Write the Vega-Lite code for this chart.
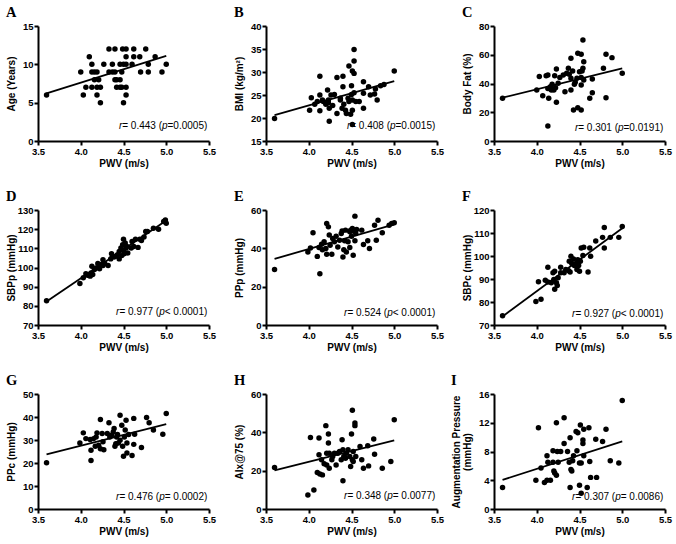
{
"$schema":"https://vega.github.io/schema/vega-lite/v6.json",
"padding":{"left":6,"top":4,"right":2,"bottom":2},
"background":"white",
"config":{
 "view":{"stroke":null},
 "axis":{"domainColor":"black","domainWidth":2,"tickColor":"black","tickWidth":2,"tickSize":4,"labelFont":"Liberation Sans","labelFontWeight":"bold","labelFontSize":9.5,"labelColor":"black","titleFont":"Liberation Sans","titleFontWeight":"bold","titleFontSize":10,"titleColor":"black","grid":false,"labelPadding":1},
 "axisX":{"titlePadding":3,"labelFlush":false},
 "axisY":{"minExtent":19,"maxExtent":19,"titlePadding":3},
 "title":{"font":"Liberation Serif","fontSize":14.5,"fontWeight":"bold","anchor":"start","frame":"bounds","color":"black","offset":1},
 "circle":{"size":30,"color":"black","opacity":1},
 "line":{"color":"black","strokeWidth":1.8},
 "text":{"align":"right","baseline":"middle","font":"Liberation Sans","fontSize":10,"color":"black"}
},
"datasets":{
"A":[{"x":3.60,"y":6},{"x":4.00,"y":9},{"x":4.03,"y":6},{"x":4.06,"y":7},{"x":4.10,"y":11},{"x":4.13,"y":10},{"x":4.13,"y":9},{"x":4.13,"y":7},{"x":4.16,"y":9},{"x":4.16,"y":8},{"x":4.19,"y":9},{"x":4.19,"y":7},{"x":4.19,"y":6},{"x":4.21,"y":8},{"x":4.23,"y":7},{"x":4.23,"y":5},{"x":4.27,"y":10},{"x":4.33,"y":12},{"x":4.33,"y":9},{"x":4.37,"y":10},{"x":4.37,"y":9},{"x":4.40,"y":12},{"x":4.40,"y":9},{"x":4.40,"y":8},{"x":4.42,"y":8},{"x":4.42,"y":7},{"x":4.46,"y":8},{"x":4.46,"y":7},{"x":4.46,"y":10},{"x":4.48,"y":7},{"x":4.48,"y":9},{"x":4.49,"y":12},{"x":4.50,"y":10},{"x":4.50,"y":5},{"x":4.53,"y":12},{"x":4.53,"y":10},{"x":4.53,"y":7},{"x":4.53,"y":11},{"x":4.53,"y":6},{"x":4.60,"y":10},{"x":4.62,"y":11},{"x":4.62,"y":12},{"x":4.69,"y":11},{"x":4.70,"y":9},{"x":4.76,"y":12},{"x":4.79,"y":10},{"x":4.79,"y":9},{"x":4.87,"y":11},{"x":4.95,"y":9},{"x":5.00,"y":10}],
"B":[{"x":3.60,"y":19.9},{"x":4.01,"y":21.7},{"x":4.03,"y":24.4},{"x":4.07,"y":23.0},{"x":4.10,"y":23.6},{"x":4.13,"y":29.1},{"x":4.13,"y":25.0},{"x":4.13,"y":21.6},{"x":4.16,"y":23.9},{"x":4.17,"y":23.6},{"x":4.20,"y":23.0},{"x":4.22,"y":26.1},{"x":4.23,"y":23.9},{"x":4.23,"y":23.3},{"x":4.24,"y":22.1},{"x":4.24,"y":19.3},{"x":4.26,"y":25.0},{"x":4.28,"y":22.7},{"x":4.30,"y":25.1},{"x":4.33,"y":28.8},{"x":4.33,"y":21.0},{"x":4.37,"y":23.9},{"x":4.37,"y":24.3},{"x":4.39,"y":22.1},{"x":4.40,"y":29.1},{"x":4.40,"y":26.8},{"x":4.41,"y":23.0},{"x":4.43,"y":21.7},{"x":4.44,"y":21.0},{"x":4.46,"y":24.3},{"x":4.47,"y":23.6},{"x":4.47,"y":31.3},{"x":4.49,"y":20.8},{"x":4.50,"y":25.1},{"x":4.50,"y":27.0},{"x":4.51,"y":30.2},{"x":4.51,"y":23.9},{"x":4.51,"y":21.7},{"x":4.51,"y":18.6},{"x":4.53,"y":34.9},{"x":4.53,"y":32.4},{"x":4.53,"y":29.7},{"x":4.53,"y":25.5},{"x":4.55,"y":23.6},{"x":4.59,"y":23.6},{"x":4.64,"y":27.9},{"x":4.64,"y":25.4},{"x":4.64,"y":22.1},{"x":4.70,"y":26.8},{"x":4.72,"y":25.0},{"x":4.77,"y":25.2},{"x":4.78,"y":26.3},{"x":4.80,"y":23.9},{"x":4.84,"y":27.0},{"x":4.88,"y":27.3},{"x":5.00,"y":30.2}],
"C":[{"x":3.60,"y":29.7},{"x":4.00,"y":35.5},{"x":4.03,"y":44.8},{"x":4.07,"y":31.5},{"x":4.11,"y":45.4},{"x":4.13,"y":45.9},{"x":4.13,"y":36.6},{"x":4.14,"y":29.7},{"x":4.13,"y":10.4},{"x":4.16,"y":37.8},{"x":4.17,"y":35.5},{"x":4.18,"y":39.4},{"x":4.20,"y":35.5},{"x":4.21,"y":45.4},{"x":4.22,"y":37.1},{"x":4.23,"y":50.1},{"x":4.23,"y":26.9},{"x":4.25,"y":40.1},{"x":4.27,"y":44.1},{"x":4.31,"y":45.9},{"x":4.33,"y":34.3},{"x":4.35,"y":47.1},{"x":4.37,"y":50.6},{"x":4.38,"y":46.4},{"x":4.40,"y":57.5},{"x":4.40,"y":43.6},{"x":4.40,"y":35.5},{"x":4.42,"y":48.7},{"x":4.43,"y":21.6},{"x":4.44,"y":39.4},{"x":4.45,"y":40.8},{"x":4.47,"y":43.6},{"x":4.48,"y":61.0},{"x":4.48,"y":23.2},{"x":4.50,"y":48.2},{"x":4.52,"y":44.1},{"x":4.52,"y":39.0},{"x":4.52,"y":21.6},{"x":4.52,"y":60.3},{"x":4.53,"y":48.7},{"x":4.54,"y":50.6},{"x":4.54,"y":70.3},{"x":4.55,"y":55.2},{"x":4.55,"y":42.4},{"x":4.62,"y":29.7},{"x":4.65,"y":43.1},{"x":4.65,"y":33.6},{"x":4.78,"y":50.6},{"x":4.81,"y":60.3},{"x":4.81,"y":30.1},{"x":4.88,"y":58.0},{"x":5.00,"y":47.1}],
"D":[{"x":3.60,"y":82.6},{"x":3.99,"y":91.7},{"x":4.03,"y":94.7},{"x":4.06,"y":96.7},{"x":4.08,"y":95.9},{"x":4.11,"y":95.5},{"x":4.12,"y":97.2},{"x":4.13,"y":100.7},{"x":4.14,"y":96.4},{"x":4.16,"y":99.0},{"x":4.18,"y":99.8},{"x":4.20,"y":102.1},{"x":4.22,"y":99.3},{"x":4.24,"y":101.6},{"x":4.26,"y":104.1},{"x":4.26,"y":101.0},{"x":4.28,"y":102.1},{"x":4.32,"y":101.0},{"x":4.35,"y":104.5},{"x":4.36,"y":107.2},{"x":4.37,"y":105.9},{"x":4.39,"y":105.5},{"x":4.41,"y":105.9},{"x":4.43,"y":106.7},{"x":4.45,"y":108.4},{"x":4.45,"y":104.5},{"x":4.47,"y":110.2},{"x":4.48,"y":106.2},{"x":4.49,"y":111.9},{"x":4.50,"y":114.8},{"x":4.50,"y":109.0},{"x":4.51,"y":107.2},{"x":4.52,"y":112.8},{"x":4.53,"y":110.2},{"x":4.54,"y":111.0},{"x":4.55,"y":107.6},{"x":4.59,"y":110.2},{"x":4.60,"y":113.6},{"x":4.62,"y":111.0},{"x":4.64,"y":114.8},{"x":4.67,"y":110.5},{"x":4.69,"y":114.8},{"x":4.71,"y":114.1},{"x":4.74,"y":115.9},{"x":4.76,"y":118.8},{"x":4.78,"y":118.8},{"x":4.85,"y":120.5},{"x":4.91,"y":120.0},{"x":4.97,"y":124.0},{"x":4.99,"y":124.8},{"x":5.00,"y":123.1}],
"E":[{"x":3.60,"y":29.0},{"x":3.99,"y":38.1},{"x":4.02,"y":40.2},{"x":4.05,"y":48.1},{"x":4.10,"y":35.8},{"x":4.12,"y":40.4},{"x":4.13,"y":26.7},{"x":4.15,"y":42.1},{"x":4.16,"y":39.3},{"x":4.18,"y":43.4},{"x":4.20,"y":39.9},{"x":4.21,"y":36.9},{"x":4.21,"y":53.0},{"x":4.23,"y":51.2},{"x":4.24,"y":46.9},{"x":4.25,"y":41.6},{"x":4.27,"y":36.9},{"x":4.28,"y":45.1},{"x":4.30,"y":43.4},{"x":4.32,"y":46.3},{"x":4.34,"y":40.7},{"x":4.36,"y":44.2},{"x":4.38,"y":47.7},{"x":4.39,"y":49.1},{"x":4.40,"y":35.5},{"x":4.41,"y":39.3},{"x":4.42,"y":43.9},{"x":4.43,"y":49.5},{"x":4.44,"y":38.1},{"x":4.46,"y":43.4},{"x":4.48,"y":48.6},{"x":4.48,"y":40.4},{"x":4.49,"y":49.5},{"x":4.50,"y":46.3},{"x":4.51,"y":50.3},{"x":4.52,"y":36.4},{"x":4.52,"y":49.1},{"x":4.54,"y":56.8},{"x":4.54,"y":43.9},{"x":4.55,"y":47.7},{"x":4.56,"y":49.8},{"x":4.62,"y":49.5},{"x":4.64,"y":42.0},{"x":4.69,"y":43.9},{"x":4.71,"y":39.9},{"x":4.77,"y":52.1},{"x":4.79,"y":44.2},{"x":4.81,"y":54.7},{"x":4.86,"y":48.1},{"x":4.94,"y":52.1},{"x":4.97,"y":53.0},{"x":5.00,"y":53.3}],
"F":[{"x":3.60,"y":74.0},{"x":3.99,"y":80.2},{"x":4.05,"y":81.2},{"x":4.02,"y":88.8},{"x":4.10,"y":89.5},{"x":4.13,"y":95.1},{"x":4.13,"y":88.7},{"x":4.17,"y":88.4},{"x":4.20,"y":89.8},{"x":4.19,"y":92.7},{"x":4.21,"y":85.5},{"x":4.21,"y":93.4},{"x":4.23,"y":88.4},{"x":4.24,"y":87.2},{"x":4.25,"y":90.5},{"x":4.28,"y":95.1},{"x":4.28,"y":92.7},{"x":4.32,"y":92.7},{"x":4.34,"y":94.1},{"x":4.37,"y":93.7},{"x":4.38,"y":97.7},{"x":4.39,"y":93.0},{"x":4.40,"y":99.9},{"x":4.41,"y":96.7},{"x":4.43,"y":98.7},{"x":4.44,"y":95.9},{"x":4.46,"y":96.7},{"x":4.47,"y":94.1},{"x":4.48,"y":98.4},{"x":4.49,"y":95.9},{"x":4.50,"y":93.4},{"x":4.51,"y":97.7},{"x":4.52,"y":103.5},{"x":4.54,"y":100.2},{"x":4.55,"y":103.8},{"x":4.60,"y":93.0},{"x":4.62,"y":103.5},{"x":4.63,"y":99.9},{"x":4.69,"y":106.5},{"x":4.77,"y":108.1},{"x":4.79,"y":103.5},{"x":4.79,"y":112.4},{"x":4.86,"y":108.1},{"x":4.96,"y":108.1},{"x":5.00,"y":112.8}],
"G":[{"x":3.60,"y":20.1},{"x":3.99,"y":28.7},{"x":4.03,"y":33.1},{"x":4.06,"y":30.6},{"x":4.11,"y":30.2},{"x":4.12,"y":25.5},{"x":4.12,"y":21.1},{"x":4.15,"y":30.6},{"x":4.17,"y":27.3},{"x":4.18,"y":31.3},{"x":4.19,"y":33.1},{"x":4.21,"y":27.7},{"x":4.23,"y":38.9},{"x":4.23,"y":26.2},{"x":4.25,"y":32.8},{"x":4.26,"y":29.2},{"x":4.27,"y":25.8},{"x":4.31,"y":32.8},{"x":4.33,"y":37.5},{"x":4.34,"y":31.3},{"x":4.36,"y":32.1},{"x":4.38,"y":33.5},{"x":4.39,"y":35.0},{"x":4.40,"y":27.3},{"x":4.41,"y":28.4},{"x":4.42,"y":31.3},{"x":4.43,"y":32.4},{"x":4.44,"y":28.7},{"x":4.46,"y":40.8},{"x":4.46,"y":29.9},{"x":4.48,"y":36.4},{"x":4.49,"y":27.3},{"x":4.50,"y":22.9},{"x":4.51,"y":31.3},{"x":4.52,"y":34.3},{"x":4.53,"y":38.6},{"x":4.54,"y":28.7},{"x":4.54,"y":24.3},{"x":4.56,"y":32.4},{"x":4.60,"y":23.3},{"x":4.62,"y":39.4},{"x":4.62,"y":28.1},{"x":4.63,"y":32.5},{"x":4.71,"y":26.7},{"x":4.77,"y":39.8},{"x":4.80,"y":37.5},{"x":4.85,"y":34.3},{"x":4.96,"y":32.5},{"x":5.00,"y":41.5}],
"H":[{"x":3.60,"y":21.6},{"x":3.99,"y":7.3},{"x":4.02,"y":37.3},{"x":4.06,"y":9.9},{"x":4.10,"y":19.0},{"x":4.12,"y":37.0},{"x":4.12,"y":28.3},{"x":4.13,"y":18.3},{"x":4.15,"y":25.7},{"x":4.16,"y":17.8},{"x":4.18,"y":23.6},{"x":4.20,"y":43.5},{"x":4.21,"y":29.1},{"x":4.21,"y":23.0},{"x":4.23,"y":39.1},{"x":4.23,"y":34.4},{"x":4.24,"y":29.1},{"x":4.24,"y":21.3},{"x":4.27,"y":25.7},{"x":4.28,"y":27.4},{"x":4.30,"y":29.1},{"x":4.32,"y":23.0},{"x":4.34,"y":29.1},{"x":4.36,"y":30.0},{"x":4.38,"y":25.7},{"x":4.39,"y":36.1},{"x":4.40,"y":14.7},{"x":4.40,"y":30.9},{"x":4.41,"y":27.4},{"x":4.43,"y":26.5},{"x":4.44,"y":29.1},{"x":4.46,"y":30.9},{"x":4.48,"y":27.4},{"x":4.49,"y":22.2},{"x":4.50,"y":39.1},{"x":4.51,"y":51.5},{"x":4.51,"y":25.7},{"x":4.52,"y":24.8},{"x":4.52,"y":30.0},{"x":4.54,"y":43.5},{"x":4.54,"y":44.9},{"x":4.55,"y":27.4},{"x":4.60,"y":32.6},{"x":4.62,"y":25.7},{"x":4.64,"y":21.3},{"x":4.69,"y":33.0},{"x":4.70,"y":22.5},{"x":4.76,"y":36.5},{"x":4.77,"y":28.6},{"x":4.86,"y":21.3},{"x":4.96,"y":24.8},{"x":5.00,"y":46.6}],
"I":[{"x":3.60,"y":3.0},{"x":3.99,"y":4.0},{"x":4.02,"y":11.3},{"x":4.05,"y":5.7},{"x":4.09,"y":3.7},{"x":4.12,"y":4.0},{"x":4.12,"y":7.4},{"x":4.13,"y":6.5},{"x":4.16,"y":4.0},{"x":4.19,"y":6.5},{"x":4.19,"y":8.1},{"x":4.20,"y":5.3},{"x":4.21,"y":5.0},{"x":4.23,"y":12.0},{"x":4.23,"y":4.7},{"x":4.24,"y":8.0},{"x":4.25,"y":6.5},{"x":4.28,"y":8.0},{"x":4.32,"y":12.7},{"x":4.32,"y":9.1},{"x":4.36,"y":8.0},{"x":4.38,"y":6.5},{"x":4.39,"y":9.9},{"x":4.39,"y":3.0},{"x":4.40,"y":5.5},{"x":4.41,"y":5.3},{"x":4.42,"y":6.7},{"x":4.43,"y":7.4},{"x":4.46,"y":10.8},{"x":4.47,"y":8.1},{"x":4.48,"y":10.6},{"x":4.50,"y":6.4},{"x":4.50,"y":3.3},{"x":4.51,"y":11.7},{"x":4.52,"y":2.2},{"x":4.52,"y":6.4},{"x":4.54,"y":9.6},{"x":4.54,"y":9.1},{"x":4.55,"y":11.1},{"x":4.55,"y":7.4},{"x":4.59,"y":3.0},{"x":4.61,"y":11.3},{"x":4.62,"y":6.6},{"x":4.63,"y":4.4},{"x":4.69,"y":9.7},{"x":4.70,"y":4.4},{"x":4.77,"y":9.4},{"x":4.81,"y":11.1},{"x":4.86,"y":6.7},{"x":4.96,"y":6.4},{"x":5.00,"y":15.1}]
},
"spacing":19,
"vconcat":[
{"spacing":57,"bounds":"flush","hconcat":[
 {"width":171,"height":115,"title":{"text":"A"},
  "encoding":{"x":{"field":"x","type":"quantitative","scale":{"domain":[3.5,5.5],"nice":false,"zero":false},"axis":{"values":[3.5,4,4.5,5,5.5],"format":".1f","title":"PWV (m/s)"}},
   "y":{"field":"y","type":"quantitative","scale":{"domain":[0,15],"nice":false,"zero":false},"axis":{"values":[0,5,10,15],"title":"Age (Years)"}}},
  "layer":[
   {"data":{"name":"A"},"mark":"circle"},
   {"data":{"values":[{"x":3.6,"y":6.2},{"x":5.0,"y":11.1}]},"mark":"line"},
   {"data":{"values":[{"x":5.48,"y":1.9,"r":"r","m":"= 0.443 (","p":"p","t":"=0.0005)"}]},
    "layer":[
     {"mark":{"type":"text","fontStyle":"italic","dx":-85.06},"encoding":{"text":{"field":"r"}}},
     {"mark":{"type":"text","dx":-45.31},"encoding":{"text":{"field":"m"}}},
     {"mark":{"type":"text","fontStyle":"italic","dx":-39.75},"encoding":{"text":{"field":"p"}}},
     {"mark":{"type":"text"},"encoding":{"text":{"field":"t"}}}
    ]}
  ]},
 {"width":171,"height":115,"title":{"text":"B"},
  "encoding":{"x":{"field":"x","type":"quantitative","scale":{"domain":[3.5,5.5],"nice":false,"zero":false},"axis":{"values":[3.5,4,4.5,5,5.5],"format":".1f","title":"PWV (m/s)"}},
   "y":{"field":"y","type":"quantitative","scale":{"domain":[15,40],"nice":false,"zero":false},"axis":{"values":[15,20,25,30,35,40],"title":"BMI (kg/m²)"}}},
  "layer":[
   {"data":{"name":"B"},"mark":"circle"},
   {"data":{"values":[{"x":3.6,"y":20.65},{"x":5.0,"y":28.0}]},"mark":"line"},
   {"data":{"values":[{"x":5.48,"y":18.3,"r":"r","m":"= 0.408 (","p":"p","t":"=0.0015)"}]},
    "layer":[
     {"mark":{"type":"text","fontStyle":"italic","dx":-85.06},"encoding":{"text":{"field":"r"}}},
     {"mark":{"type":"text","dx":-45.31},"encoding":{"text":{"field":"m"}}},
     {"mark":{"type":"text","fontStyle":"italic","dx":-39.75},"encoding":{"text":{"field":"p"}}},
     {"mark":{"type":"text"},"encoding":{"text":{"field":"t"}}}
    ]}
  ]},
 {"width":171,"height":115,"title":{"text":"C"},
  "encoding":{"x":{"field":"x","type":"quantitative","scale":{"domain":[3.5,5.5],"nice":false,"zero":false},"axis":{"values":[3.5,4,4.5,5,5.5],"format":".1f","title":"PWV (m/s)"}},
   "y":{"field":"y","type":"quantitative","scale":{"domain":[0,80],"nice":false,"zero":false},"axis":{"values":[0,20,40,60,80],"title":"Body Fat (%)"}}},
  "layer":[
   {"data":{"name":"C"},"mark":"circle"},
   {"data":{"values":[{"x":3.6,"y":30.1},{"x":5.0,"y":50.5}]},"mark":"line"},
   {"data":{"values":[{"x":5.48,"y":9.3,"r":"r","m":"= 0.301 (","p":"p","t":"=0.0191)"}]},
    "layer":[
     {"mark":{"type":"text","fontStyle":"italic","dx":-85.06},"encoding":{"text":{"field":"r"}}},
     {"mark":{"type":"text","dx":-45.31},"encoding":{"text":{"field":"m"}}},
     {"mark":{"type":"text","fontStyle":"italic","dx":-39.75},"encoding":{"text":{"field":"p"}}},
     {"mark":{"type":"text"},"encoding":{"text":{"field":"t"}}}
    ]}
  ]}
]},
{"spacing":57,"bounds":"flush","hconcat":[
 {"width":171,"height":115,"title":{"text":"D"},
  "encoding":{"x":{"field":"x","type":"quantitative","scale":{"domain":[3.5,5.5],"nice":false,"zero":false},"axis":{"values":[3.5,4,4.5,5,5.5],"format":".1f","title":"PWV (m/s)"}},
   "y":{"field":"y","type":"quantitative","scale":{"domain":[70,130],"nice":false,"zero":false},"axis":{"values":[70,80,90,100,110,120,130],"title":"SBPp (mmHg)"}}},
  "layer":[
   {"data":{"name":"D"},"mark":"circle"},
   {"data":{"values":[{"x":3.6,"y":82.3},{"x":5.0,"y":124.5}]},"mark":"line"},
   {"data":{"values":[{"x":5.48,"y":76.6,"r":"r","m":"= 0.977 (","p":"p","t":"< 0.0001)"}]},
    "layer":[
     {"mark":{"type":"text","fontStyle":"italic","dx":-87.84},"encoding":{"text":{"field":"r"}}},
     {"mark":{"type":"text","dx":-48.09},"encoding":{"text":{"field":"m"}}},
     {"mark":{"type":"text","fontStyle":"italic","dx":-42.53},"encoding":{"text":{"field":"p"}}},
     {"mark":{"type":"text"},"encoding":{"text":{"field":"t"}}}
    ]}
  ]},
 {"width":171,"height":115,"title":{"text":"E"},
  "encoding":{"x":{"field":"x","type":"quantitative","scale":{"domain":[3.5,5.5],"nice":false,"zero":false},"axis":{"values":[3.5,4,4.5,5,5.5],"format":".1f","title":"PWV (m/s)"}},
   "y":{"field":"y","type":"quantitative","scale":{"domain":[0,60],"nice":false,"zero":false},"axis":{"values":[0,20,40,60],"title":"PPp (mmHg)"}}},
  "layer":[
   {"data":{"name":"E"},"mark":"circle"},
   {"data":{"values":[{"x":3.6,"y":34.5},{"x":5.0,"y":52.5}]},"mark":"line"},
   {"data":{"values":[{"x":5.48,"y":6.1,"r":"r","m":"= 0.524 (","p":"p","t":"< 0.0001)"}]},
    "layer":[
     {"mark":{"type":"text","fontStyle":"italic","dx":-87.84},"encoding":{"text":{"field":"r"}}},
     {"mark":{"type":"text","dx":-48.09},"encoding":{"text":{"field":"m"}}},
     {"mark":{"type":"text","fontStyle":"italic","dx":-42.53},"encoding":{"text":{"field":"p"}}},
     {"mark":{"type":"text"},"encoding":{"text":{"field":"t"}}}
    ]}
  ]},
 {"width":171,"height":115,"title":{"text":"F"},
  "encoding":{"x":{"field":"x","type":"quantitative","scale":{"domain":[3.5,5.5],"nice":false,"zero":false},"axis":{"values":[3.5,4,4.5,5,5.5],"format":".1f","title":"PWV (m/s)"}},
   "y":{"field":"y","type":"quantitative","scale":{"domain":[70,120],"nice":false,"zero":false},"axis":{"values":[70,80,90,100,110,120],"title":"SBPc (mmHg)"}}},
  "layer":[
   {"data":{"name":"F"},"mark":"circle"},
   {"data":{"values":[{"x":3.6,"y":73.7},{"x":5.0,"y":112.1}]},"mark":"line"},
   {"data":{"values":[{"x":5.48,"y":75.0,"r":"r","m":"= 0.927 (","p":"p","t":"< 0.0001)"}]},
    "layer":[
     {"mark":{"type":"text","fontStyle":"italic","dx":-87.84},"encoding":{"text":{"field":"r"}}},
     {"mark":{"type":"text","dx":-48.09},"encoding":{"text":{"field":"m"}}},
     {"mark":{"type":"text","fontStyle":"italic","dx":-42.53},"encoding":{"text":{"field":"p"}}},
     {"mark":{"type":"text"},"encoding":{"text":{"field":"t"}}}
    ]}
  ]}
]},
{"spacing":57,"bounds":"flush","hconcat":[
 {"width":171,"height":115,"title":{"text":"G"},
  "encoding":{"x":{"field":"x","type":"quantitative","scale":{"domain":[3.5,5.5],"nice":false,"zero":false},"axis":{"values":[3.5,4,4.5,5,5.5],"format":".1f","title":"PWV (m/s)"}},
   "y":{"field":"y","type":"quantitative","scale":{"domain":[0,50],"nice":false,"zero":false},"axis":{"values":[0,10,20,30,40,50],"title":"PPc (mmHg)"}}},
  "layer":[
   {"data":{"name":"G"},"mark":"circle"},
   {"data":{"values":[{"x":3.6,"y":23.8},{"x":5.0,"y":36.9}]},"mark":"line"},
   {"data":{"values":[{"x":5.48,"y":5.4,"r":"r","m":"= 0.476 (","p":"p","t":"= 0.0002)"}]},
    "layer":[
     {"mark":{"type":"text","fontStyle":"italic","dx":-87.84},"encoding":{"text":{"field":"r"}}},
     {"mark":{"type":"text","dx":-48.09},"encoding":{"text":{"field":"m"}}},
     {"mark":{"type":"text","fontStyle":"italic","dx":-42.53},"encoding":{"text":{"field":"p"}}},
     {"mark":{"type":"text"},"encoding":{"text":{"field":"t"}}}
    ]}
  ]},
 {"width":171,"height":115,"title":{"text":"H"},
  "encoding":{"x":{"field":"x","type":"quantitative","scale":{"domain":[3.5,5.5],"nice":false,"zero":false},"axis":{"values":[3.5,4,4.5,5,5.5],"format":".1f","title":"PWV (m/s)"}},
   "y":{"field":"y","type":"quantitative","scale":{"domain":[0,60],"nice":false,"zero":false},"axis":{"values":[0,20,40,60],"title":"AIx@75 (%)"}}},
  "layer":[
   {"data":{"name":"H"},"mark":"circle"},
   {"data":{"values":[{"x":3.6,"y":20.1},{"x":5.0,"y":35.8}]},"mark":"line"},
   {"data":{"values":[{"x":5.48,"y":6.8,"r":"r","m":"= 0.348 (","p":"p","t":"= 0.0077)"}]},
    "layer":[
     {"mark":{"type":"text","fontStyle":"italic","dx":-87.84},"encoding":{"text":{"field":"r"}}},
     {"mark":{"type":"text","dx":-48.09},"encoding":{"text":{"field":"m"}}},
     {"mark":{"type":"text","fontStyle":"italic","dx":-42.53},"encoding":{"text":{"field":"p"}}},
     {"mark":{"type":"text"},"encoding":{"text":{"field":"t"}}}
    ]}
  ]},
 {"width":171,"height":115,"title":{"text":"I"},
  "encoding":{"x":{"field":"x","type":"quantitative","scale":{"domain":[3.5,5.5],"nice":false,"zero":false},"axis":{"values":[3.5,4,4.5,5,5.5],"format":".1f","title":"PWV (m/s)"}},
   "y":{"field":"y","type":"quantitative","scale":{"domain":[0,16],"nice":false,"zero":false},"axis":{"values":[0,4,8,12,16],"title":["Augmentation Pressure","(mmHg)"],"titleLineHeight":11}}},
  "layer":[
   {"data":{"name":"I"},"mark":"circle"},
   {"data":{"values":[{"x":3.6,"y":4.05},{"x":5.0,"y":9.4}]},"mark":"line"},
   {"data":{"values":[{"x":5.48,"y":1.7,"r":"r","m":"= 0.307 (","p":"p","t":"= 0.0086)"}]},
    "layer":[
     {"mark":{"type":"text","fontStyle":"italic","dx":-87.84},"encoding":{"text":{"field":"r"}}},
     {"mark":{"type":"text","dx":-48.09},"encoding":{"text":{"field":"m"}}},
     {"mark":{"type":"text","fontStyle":"italic","dx":-42.53},"encoding":{"text":{"field":"p"}}},
     {"mark":{"type":"text"},"encoding":{"text":{"field":"t"}}}
    ]}
  ]}
]}
]
}
